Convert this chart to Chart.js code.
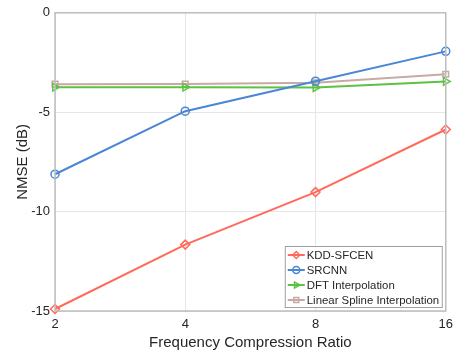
<!DOCTYPE html>
<html>
<head>
<meta charset="utf-8">
<script src="https://cdn.jsdelivr.net/npm/chart.js@4.4.0/dist/chart.umd.min.js"></script>
<style>
  body { margin: 0; background: #fff; }
</style>
</head>
<body>
<canvas id="graf_1" width="459" height="356"></canvas>
<script>
// x values (compression ratio) and tick labels
var ratios = [2, 4, 8, 16];
var yTicks = [0, -5, -10, -15];

// NMSE (dB) per method
var kddSfcen = [-14.9, -11.66, -9.02, -5.87];
var srcnn = [-8.12, -4.95, -3.44, -1.94];
var dftInterp = [-3.74, -3.74, -3.76, -3.45];
var splineInterp = [-3.59, -3.58, -3.52, -3.09];

function pts(vals) {
    return ratios.map(function (r, i) { return { x: r, y: vals[i] }; });
}

function serie(label, vals, color, style, rot, radius) {
    return {
        label: label,
        data: pts(vals),
        borderColor: color,
        backgroundColor: 'transparent',
        borderWidth: 2,
        pointStyle: style,
        pointRotation: rot,
        pointRadius: radius,
        pointBorderWidth: 1.5,
        pointBackgroundColor: 'transparent',
        lineTension: 0,
        clip: false
    };
}

// box around the plot + legend inside the axes, matlab style
var boxLegend = {
    id: 'boxLegend',
    afterDraw: function (chart) {
        var c = chart.ctx, a = chart.chartArea;
        c.save();
        c.strokeStyle = '#bdbdbd';
        c.lineWidth = 1.5;
        c.strokeRect(a.left, a.top, a.right - a.left, a.bottom - a.top);

        var w = 157, h = 61;
        var x0 = a.right - 161, y0 = a.bottom - 65;
        c.fillStyle = '#fff';
        c.fillRect(x0, y0, w, h);
        c.strokeStyle = '#a0a0a0';
        c.lineWidth = 1;
        c.strokeRect(x0 + 0.5, y0 + 0.5, w, h);
        c.font = '11.4px "Liberation Sans", Arial, sans-serif';
        c.textBaseline = 'middle';
        chart.data.datasets.forEach(function (ds, i) {
            var y = y0 + 9 + i * 15;
            c.strokeStyle = ds.borderColor;
            c.lineWidth = 2;
            c.beginPath();
            c.moveTo(x0 + 3, y);
            c.lineTo(x0 + 20, y);
            c.stroke();
            c.lineWidth = 1.5;
            c.fillStyle = 'rgba(255,255,255,0)';
            Chart.helpers.drawPoint(c, {
                pointStyle: ds.pointStyle,
                rotation: ds.pointRotation,
                radius: 3.5,
                borderWidth: 1.5
            }, x0 + 11.5, y);
            c.fillStyle = '#262626';
            c.fillText(ds.label, x0 + 22, y + 1);
        });
        c.restore();
    }
};

var ctx = document.getElementById('graf_1').getContext('2d');
var chart = new Chart(ctx, {
    type: 'line',
    data: {
        datasets: [
            serie('KDD-SFCEN', kddSfcen, '#ff6a5a', 'rectRot', 0, 4.5),
            serie('SRCNN', srcnn, '#4a86d6', 'circle', 0, 4),
            serie('DFT Interpolation', dftInterp, '#5cc244', 'triangle', 90, 4.5),
            serie('Linear Spline Interpolation', splineInterp, '#c7aaa2', 'rect', 0, 4)
        ]
    },
    options: {
        responsive: false,
        animation: false,
        layout: { padding: { left: 0, top: 10, right: 12, bottom: 4 } },
        plugins: { legend: { display: false }, tooltip: { enabled: false } },
        scales: {
            x: {
                type: 'logarithmic',
                min: 2,
                max: 16,
                afterBuildTicks: function (axis) {
                    axis.ticks = ratios.map(function (v) { return { value: v }; });
                },
                afterFit: function (axis) { axis.height = 41; },
                grid: { color: '#e6e6e6', drawTicks: false },
                border: { display: false },
                ticks: {
                    color: '#262626',
                    padding: 6,
                    maxRotation: 0,
                    autoSkip: false,
                    font: { family: '"Liberation Sans", Arial, sans-serif', size: 13 },
                    callback: function (v) { return String(v); }
                },
                title: {
                    display: true,
                    text: 'Frequency Compression Ratio',
                    color: '#262626',
                    padding: { top: 2, bottom: 0 },
                    font: { family: '"Liberation Sans", Arial, sans-serif', size: 15 }
                }
            },
            y: {
                min: -15,
                max: 0,
                afterBuildTicks: function (axis) {
                    axis.ticks = yTicks.map(function (v) { return { value: v }; });
                },
                afterFit: function (axis) { axis.width = 55; },
                grid: { color: '#e6e6e6', drawTicks: false },
                border: { display: false },
                ticks: {
                    color: '#262626',
                    padding: 5,
                    font: { family: '"Liberation Sans", Arial, sans-serif', size: 13 }
                },
                title: {
                    display: true,
                    text: 'NMSE (dB)',
                    color: '#262626',
                    padding: { top: 14, bottom: 4 },
                    font: { family: '"Liberation Sans", Arial, sans-serif', size: 15 }
                }
            }
        }
    },
    plugins: [boxLegend]
});
</script>
</body>
</html>
